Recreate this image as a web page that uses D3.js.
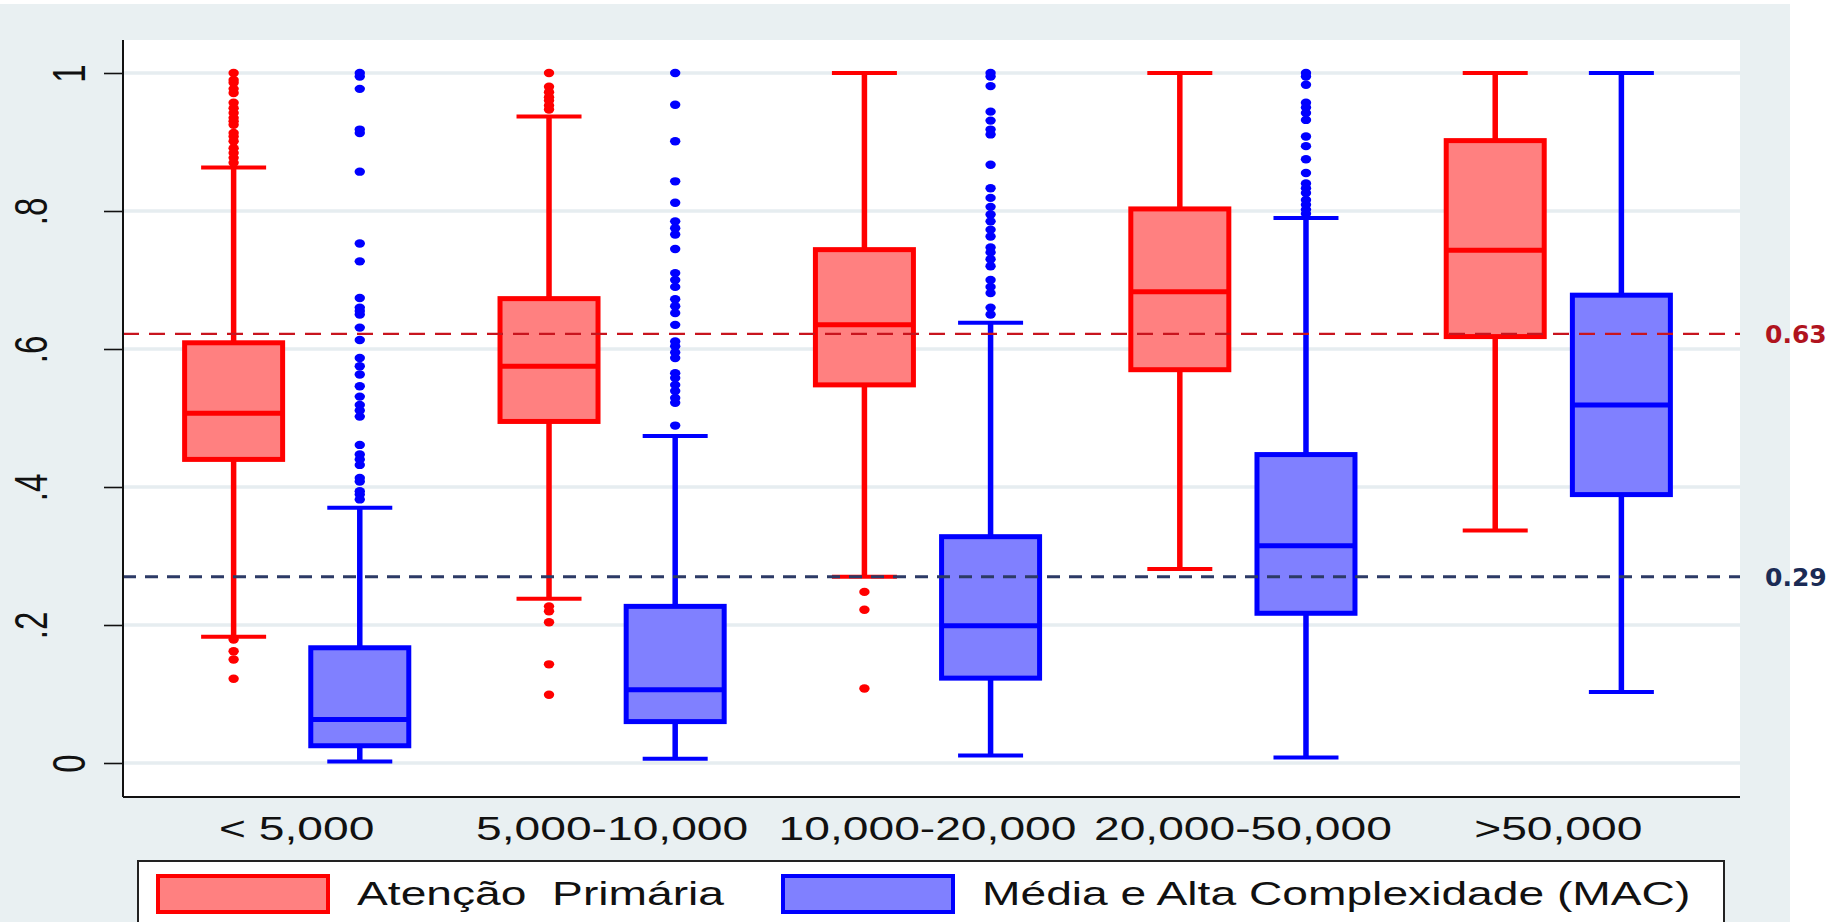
<!DOCTYPE html>
<html>
<head>
<meta charset="utf-8">
<script src="https://cdn.jsdelivr.net/npm/d3@7"></script>
<style>
body { margin: 0; background: #fff; }
text { font-family: "Liberation Sans", Arial, sans-serif; }
</style>
</head>
<body>
<svg width="1840" height="922"></svg>
<script>
// values (share of ... per population size)
const categories = ["< 5,000", "5,000-10,000", "10,000-20,000", "20,000-50,000", ">50,000"];
const seriesKeys = ["ap", "mac"];
const seriesNames = ["Atenção  Primária", "Média e Alta Complexidade (MAC)"];

const apLow    = [0.183, 0.238, 0.270, 0.281, 0.337];
const apQ1     = [0.440, 0.495, 0.548, 0.570, 0.618];
const apMedian = [0.507, 0.575, 0.635, 0.683, 0.743];
const apQ3     = [0.609, 0.673, 0.744, 0.803, 0.902];
const apHigh   = [0.863, 0.937, 1.000, 1.000, 1.000];
const apOutliers = [
  [1.0, 0.99, 0.986, 0.977, 0.971, 0.957, 0.949, 0.942, 0.935, 0.930, 0.925, 0.913, 0.908, 0.901, 0.891, 0.884, 0.877, 0.870, 0.179, 0.162, 0.150, 0.122],
  [1.0, 0.98, 0.972, 0.965, 0.96, 0.953, 0.947, 0.227, 0.22, 0.204, 0.143, 0.099],
  [0.248, 0.222, 0.108],
  [],
  []
];

const macLow    = [0.002, 0.006, 0.011, 0.008, 0.103];
const macQ1     = [0.025, 0.060, 0.123, 0.217, 0.389];
const macMedian = [0.063, 0.106, 0.199, 0.315, 0.519];
const macQ3     = [0.167, 0.227, 0.328, 0.447, 0.678];
const macHigh   = [0.370, 0.474, 0.638, 0.790, 1.000];
const macOutliers = [
  [1.0, 0.995, 0.977, 0.918, 0.913, 0.857, 0.753, 0.727, 0.674, 0.66, 0.655, 0.65, 0.631, 0.613, 0.587, 0.575, 0.563, 0.546, 0.531, 0.519, 0.511, 0.502, 0.461, 0.447, 0.44, 0.432, 0.413, 0.408, 0.394, 0.389, 0.382],
  [1.0, 0.954, 0.901, 0.843, 0.812, 0.785, 0.775, 0.766, 0.745, 0.71, 0.70, 0.69, 0.672, 0.662, 0.652, 0.635, 0.611, 0.604, 0.595, 0.587, 0.565, 0.558, 0.548, 0.539, 0.529, 0.522, 0.489],
  [1.0, 0.995, 0.981, 0.944, 0.931, 0.918, 0.911, 0.867, 0.833, 0.819, 0.806, 0.795, 0.785, 0.773, 0.763, 0.747, 0.74, 0.73, 0.72, 0.70, 0.69, 0.681, 0.66, 0.65],
  [1.0, 0.995, 0.983, 0.957, 0.95, 0.942, 0.932, 0.908, 0.894, 0.875, 0.855, 0.84, 0.833, 0.826, 0.816, 0.809, 0.802, 0.796],
  []
];

const yTicks = [0, 0.2, 0.4, 0.6, 0.8, 1];
const yTickLabels = ["0", ".2", ".4", ".6", ".8", "1"];

const refValues = [0.622, 0.270];
const refLabels = ["0.63", "0.29"];

// --- layout / style
const svg = d3.select("svg");
const plot = {left: 123, top: 40, right: 1740, bottom: 797};
const stretch = 1.4;   // the original figure is stretched horizontally
const colors = {
  ap:  {stroke: "#ff0000", fill: "#ff8080"},
  mac: {stroke: "#0000ff", fill: "#8080ff"}
};
const refColors = ["#c8141e", "#2c3a66"];
const refTextColors = ["#b0141e", "#1b2b55"];

const y = d3.scaleLinear().domain([0, 1]).range([763, 73]);
const xGroup = d3.scaleBand().domain(categories).range([plot.left + 16, plot.right - 24]);
const xSeries = d3.scaleBand().domain(seriesKeys).range([0, xGroup.bandwidth()]).paddingOuter(0.25);
const boxW = 98, capW = 65;

// background
svg.append("rect").attr("x", 0).attr("y", 4).attr("width", 1790).attr("height", 918).attr("fill", "#e9f0f2");
svg.append("rect").attr("x", plot.left).attr("y", plot.top)
  .attr("width", plot.right - plot.left).attr("height", plot.bottom - plot.top).attr("fill", "#fff");

// grid
svg.append("g").selectAll("line").data(yTicks).enter().append("line")
  .attr("x1", plot.left).attr("x2", plot.right)
  .attr("y1", d => y(d)).attr("y2", d => y(d))
  .attr("stroke", "#e6edf0").attr("stroke-width", 3.5);

// boxes
const stats = {
  ap:  categories.map((c, i) => ({c, lo: apLow[i], q1: apQ1[i], med: apMedian[i], q3: apQ3[i], hi: apHigh[i], out: apOutliers[i]})),
  mac: categories.map((c, i) => ({c, lo: macLow[i], q1: macQ1[i], med: macMedian[i], q3: macQ3[i], hi: macHigh[i], out: macOutliers[i]}))
};

seriesKeys.forEach(k => {
  const col = colors[k];
  const g = svg.append("g").attr("class", "box-" + k);
  const cx = d => xGroup(d.c) + xSeries(k) + xSeries.bandwidth() / 2;

  const b = g.selectAll("g").data(stats[k]).enter().append("g");
  // whisker stems
  b.append("line").attr("x1", cx).attr("x2", cx)
    .attr("y1", d => y(d.q3)).attr("y2", d => y(d.hi))
    .attr("stroke", col.stroke).attr("stroke-width", 5.5);
  b.append("line").attr("x1", cx).attr("x2", cx)
    .attr("y1", d => y(d.q1)).attr("y2", d => y(d.lo))
    .attr("stroke", col.stroke).attr("stroke-width", 5.5);
  // caps
  ["hi", "lo"].forEach(key => {
    b.append("line")
      .attr("x1", d => cx(d) - capW / 2).attr("x2", d => cx(d) + capW / 2)
      .attr("y1", d => y(d[key])).attr("y2", d => y(d[key]))
      .attr("stroke", col.stroke).attr("stroke-width", 4);
  });
  // box
  b.append("rect")
    .attr("x", d => cx(d) - boxW / 2).attr("width", boxW)
    .attr("y", d => y(d.q3)).attr("height", d => y(d.q1) - y(d.q3))
    .attr("fill", col.fill).attr("stroke", col.stroke).attr("stroke-width", 5);
  b.append("line")
    .attr("x1", d => cx(d) - boxW / 2).attr("x2", d => cx(d) + boxW / 2)
    .attr("y1", d => y(d.med)).attr("y2", d => y(d.med))
    .attr("stroke", col.stroke).attr("stroke-width", 5);
  // outside values
  b.selectAll("ellipse").data(d => d.out.map(v => ({c: d.c, v}))).enter().append("ellipse")
    .attr("cx", cx).attr("cy", d => y(d.v))
    .attr("rx", 5.2).attr("ry", 4.2)
    .attr("fill", col.stroke);
});

// reference lines
svg.append("g").selectAll("line").data(refValues).enter().append("line")
  .attr("x1", plot.left).attr("x2", plot.right)
  .attr("y1", d => y(d)).attr("y2", d => y(d))
  .attr("stroke", (d, i) => refColors[i])
  .attr("stroke-width", (d, i) => i === 0 ? 2.2 : 3)
  .attr("stroke-dasharray", (d, i) => i === 0 ? "16,10" : "13,9");

svg.append("g").selectAll("text").data(refValues).enter().append("text")
  .attr("x", 1765).attr("y", d => y(d))
  .attr("dy", "0.36em")
  .attr("fill", (d, i) => refTextColors[i])
  .style("font-family", "'DejaVu Sans', Verdana, sans-serif")
  .style("font-size", "25px")
  .style("font-weight", "bold")
  .text((d, i) => refLabels[i]);

// y axis
const yAxis = svg.append("g").attr("transform", `translate(${plot.left},0)`)
  .call(d3.axisLeft(y).tickValues(yTicks).tickSize(19).tickSizeOuter(0)
    .tickFormat((d, i) => yTickLabels[i]));
yAxis.select(".domain").remove();
yAxis.selectAll(".tick line").attr("stroke", "#111").attr("stroke-width", 1.6);
yAxis.selectAll(".tick text")
  .attr("x", null).attr("dy", null)
  .attr("text-anchor", "middle")
  .attr("transform", (d, i) => `translate(${-38 * yTickLabels[i].length},0) scale(${stretch},1) rotate(-90)`)
  .attr("fill", "#111")
  .style("font-size", "33px");

// x axis
const xAxis = svg.append("g").attr("transform", `translate(0,${plot.bottom})`)
  .call(d3.axisBottom(xGroup).tickSize(0));
xAxis.select(".domain").remove();
xAxis.selectAll(".tick text")
  .attr("y", null).attr("dy", null)
  .attr("transform", `translate(0,43) scale(${stretch},1)`)
  .attr("fill", "#111")
  .style("font-size", "33px");

// axis lines
svg.append("line").attr("x1", plot.left).attr("x2", plot.left).attr("y1", plot.top).attr("y2", plot.bottom)
  .attr("stroke", "#111").attr("stroke-width", 2);
svg.append("line").attr("x1", plot.left).attr("x2", plot.right).attr("y1", plot.bottom).attr("y2", plot.bottom)
  .attr("stroke", "#111").attr("stroke-width", 2);

// legend
const legend = svg.append("g");
legend.append("rect").attr("x", 138).attr("y", 861).attr("width", 1586).attr("height", 90)
  .attr("fill", "#fff").attr("stroke", "#222").attr("stroke-width", 2);
const legendX = [158, 783];
seriesKeys.forEach((k, i) => {
  legend.append("rect").attr("x", legendX[i]).attr("y", 876).attr("width", 170).attr("height", 36)
    .attr("fill", colors[k].fill).attr("stroke", colors[k].stroke).attr("stroke-width", 4);
  legend.append("text")
    .attr("transform", `translate(${legendX[i] + 199},905) scale(${stretch},1)`)
    .attr("fill", "#111")
    .style("font-size", "33px")
    .style("white-space", "pre")
    .text(seriesNames[i]);
});
</script>
</body>
</html>
